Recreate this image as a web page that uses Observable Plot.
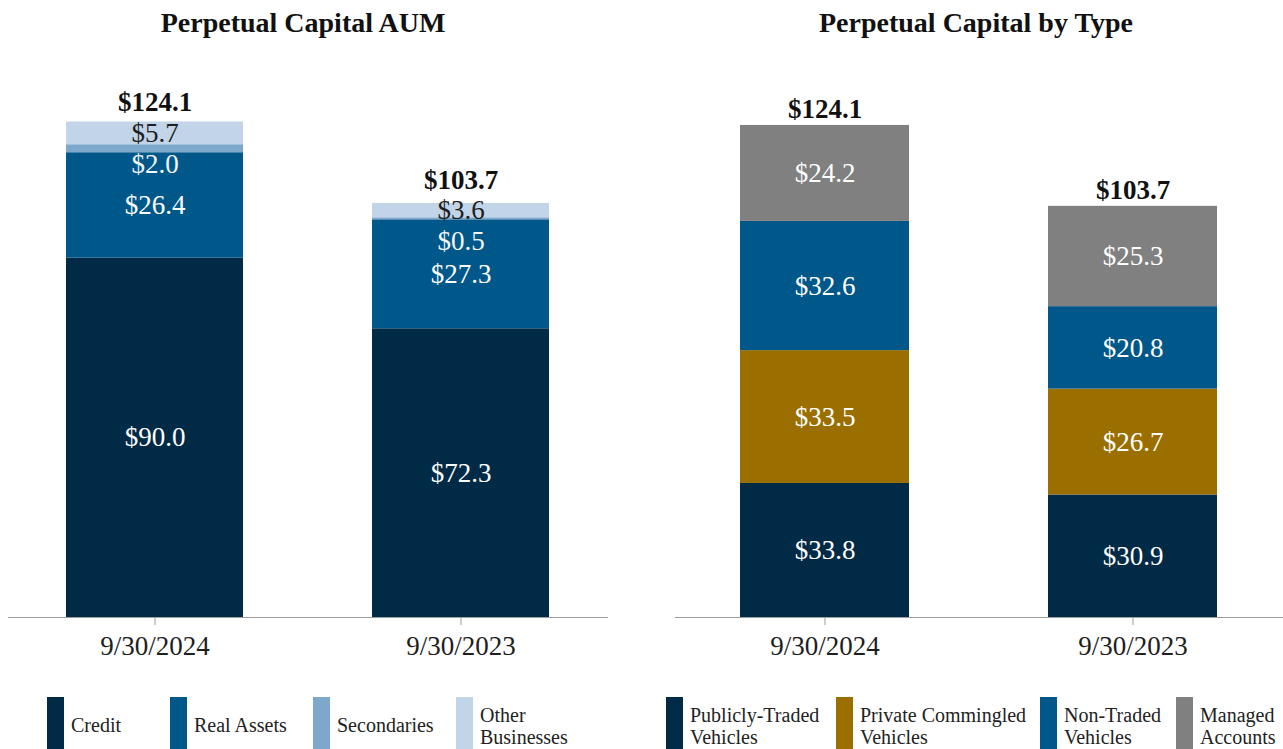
<!DOCTYPE html>
<html><head><meta charset="utf-8">
<script src="https://cdn.jsdelivr.net/npm/d3@7"></script>
<script src="https://cdn.jsdelivr.net/npm/@observablehq/plot@0.6"></script>
<style>
body{margin:0;background:#fff;font-family:"Liberation Serif","Times New Roman",serif;}
#root{position:relative;width:1283px;height:749px;overflow:hidden;background:#fff;}
.title{position:absolute;top:9px;width:600px;font-weight:bold;font-size:28px;line-height:28px;text-align:center;color:#111;white-space:nowrap;}
.chart{position:absolute;top:50px;}
.sw{position:absolute;top:697px;width:17px;height:60px;}
.lt{position:absolute;font-size:20px;line-height:22px;color:#222;white-space:nowrap;}
</style></head><body><div id="root"></div>
<script>
// ---- data ----
const dates = ["9/30/2024", "9/30/2023"];

const aumSeries = ["Credit", "Real Assets", "Secondaries", "Other Businesses"];
const aumCredit = [90.0, 72.3];
const aumRealAssets = [26.4, 27.3];
const aumSecondaries = [2.0, 0.5];
const aumOther = [5.7, 3.6];
const aumTotals = [124.1, 103.7];

const typeSeries = ["Publicly-Traded Vehicles", "Private Commingled Vehicles", "Non-Traded Vehicles", "Managed Accounts"];
const typePublic = [33.8, 30.9];
const typePrivate = [33.5, 26.7];
const typeNonTraded = [32.6, 20.8];
const typeManaged = [24.2, 25.3];
const typeTotals = [124.1, 103.7];

const titles = ["Perpetual Capital AUM", "Perpetual Capital by Type"];

// ---- styles / layout ----
const aumColors = ["#002a45", "#00578a", "#7ea8cb", "#c2d5e8"];
const aumLabelColors = ["#ffffff", "#ffffff", "#f3f6fa", "#1e1e1e"];
const typeColors = ["#002a45", "#9a6f00", "#00578a", "#808080"];
const typeLabelColors = ["#ffffff", "#ffffff", "#ffffff", "#ffffff"];
const aumLegendLines = [["Credit"], ["Real Assets"], ["Secondaries"], ["Other", "Businesses"]];
const typeLegendLines = [["Publicly-Traded", "Vehicles"], ["Private Commingled", "Vehicles"], ["Non-Traded", "Vehicles"], ["Managed", "Accounts"]];
const aumLegendX = [47, 170, 313, 456];
const typeLegendX = [26, 196, 400, 536];
const FONT = '"Liberation Serif","Times New Roman",serif';
const GAP = 7.7;    // minimal spacing between label centres, data units
const TOTOFF = 4;   // total label centre above bar top, data units

const root = document.getElementById("root");

function panel({left, width, mLeft, mRight, pi, po, yMax, title, titleCenter, series, values, totals, colors, labelColors, legendLines, legendX}) {
  const bars = [];
  const labels = [];
  const tots = [];
  dates.forEach((d, i) => {
    let acc = 0;
    const segs = series.map((s, k) => {
      const v = values[k][i];
      const r = {date: d, series: s, value: v, mid: acc + v / 2, k};
      acc += v;
      bars.push(r);
      return r;
    });
    let prev = Infinity;
    for (let k = segs.length - 1; k >= 0; k--) {
      const r = segs[k];
      r.ly = Math.min(r.mid, prev - GAP);
      prev = r.ly;
      labels.push(r);
    }
    const top = segs[segs.length - 1].ly;
    tots.push({date: d, total: totals[i], ty: Math.max(totals[i] + TOTOFF, top + GAP)});
  });

  const t = document.createElement("div");
  t.className = "title";
  t.style.left = (left + titleCenter - 300) + "px";
  t.textContent = title;
  root.appendChild(t);

  const chart = Plot.plot({
    width, height: 627,
    marginTop: 0, marginBottom: 60, marginLeft: mLeft, marginRight: mRight,
    x: {domain: dates, paddingInner: pi, paddingOuter: po, axis: null},
    y: {domain: [0, yMax], axis: null},
    color: {domain: series, range: colors},
    style: {fontFamily: FONT, background: "transparent", overflow: "visible"},
    marks: [
      Plot.barY(bars, {x: "date", y: "value", fill: "series"}),
      Plot.ruleY([0], {stroke: "#9c9c9c", strokeWidth: 1.2}),
      Plot.axisX({tickSize: 8, tickPadding: 10, fontSize: 27, stroke: "#9c9c9c", fill: "#1e1e1e", label: null}),
      Plot.text(labels, {x: "date", y: "ly", text: d => "$" + d.value.toFixed(1), fill: d => labelColors[d.k], fontSize: 27}),
      Plot.text(tots, {x: "date", y: "ty", text: d => "$" + d.total.toFixed(1), fontSize: 27, fontWeight: "bold", fill: "#111"})
    ]
  });
  chart.classList.add("chart");
  chart.style.left = left + "px";
  root.appendChild(chart);

  series.forEach((s, k) => {
    const sw = document.createElement("div");
    sw.className = "sw";
    sw.style.left = (left + legendX[k]) + "px";
    sw.style.background = colors[k];
    root.appendChild(sw);
    const lt = document.createElement("div");
    lt.className = "lt";
    lt.style.left = (left + legendX[k] + 24) + "px";
    const lines = legendLines[k];
    lt.style.top = (lines.length === 1 ? 714 : 704) + "px";
    lt.innerHTML = lines.join("<br>");
    root.appendChild(lt);
  });
}

panel({left: 0, width: 640, mLeft: 8, mRight: 32, pi: 0.42, po: 0.19, yMax: 142,
  title: titles[0], titleCenter: 303,
  series: aumSeries, values: [aumCredit, aumRealAssets, aumSecondaries, aumOther], totals: aumTotals,
  colors: aumColors, labelColors: aumLabelColors, legendLines: aumLegendLines, legendX: aumLegendX});

panel({left: 640, width: 643, mLeft: 35, mRight: 0, pi: 0.45, po: 0.21, yMax: 143,
  title: titles[1], titleCenter: 336,
  series: typeSeries, values: [typePublic, typePrivate, typeNonTraded, typeManaged], totals: typeTotals,
  colors: typeColors, labelColors: typeLabelColors, legendLines: typeLegendLines, legendX: typeLegendX});
</script></body></html>
